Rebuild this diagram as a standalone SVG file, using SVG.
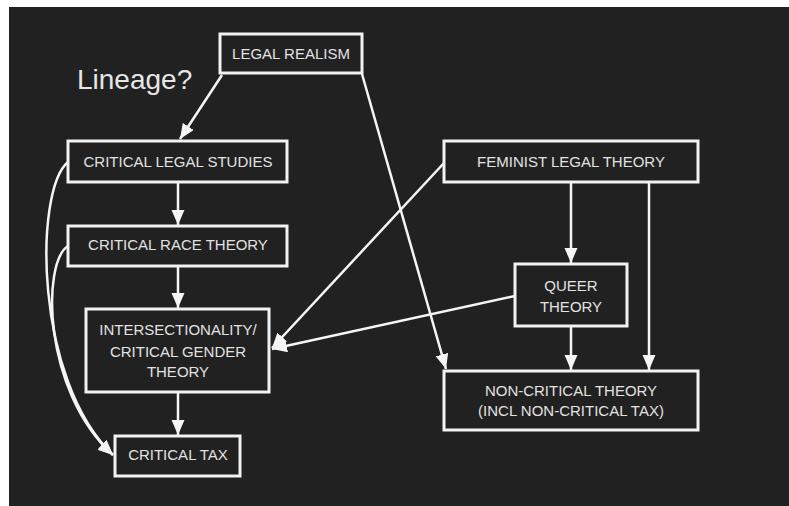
<svg xmlns="http://www.w3.org/2000/svg" width="789" height="506" viewBox="0 0 789 506">
<defs>
<style>
.box{fill:#212121;stroke:#f2f2f2;stroke-width:3}
.t{font-family:"Liberation Sans",Arial,sans-serif;font-size:15px;fill:#e2e2e2;text-anchor:middle}
.c{fill:none;stroke:#f5f5f5;stroke-width:2.5}
</style>
<marker id="ah" markerUnits="userSpaceOnUse" markerWidth="16" markerHeight="14" refX="15" refY="6.5" orient="auto">
<path d="M0,0 L15,6.5 L0,13 Z" fill="#f5f5f5"/>
</marker>
</defs>
<rect x="0" y="0" width="789" height="506" fill="#ffffff"/>
<rect x="9" y="7" width="780" height="499" fill="#212121"/>
<text x="77" y="89" font-family="Liberation Sans,Arial,sans-serif" font-size="28" fill="#e6e6e6">Lineage?</text>
<g id="connectors">
<path class="c" d="M222,75 L180,139" marker-end="url(#ah)"/>
<path class="c" d="M362,74 L446,369" marker-end="url(#ah)"/>
<path class="c" d="M178,183 L178,225" marker-end="url(#ah)"/>
<path class="c" d="M178,267 L178,308" marker-end="url(#ah)"/>
<path class="c" d="M178,393 L178,435" marker-end="url(#ah)"/>
<path class="c" d="M444,163 L272,348" marker-end="url(#ah)"/>
<path class="c" d="M515,296 L272,349" marker-end="url(#ah)"/>
<path class="c" d="M571,183 L571,263" marker-end="url(#ah)"/>
<path class="c" d="M649,183 L649,370" marker-end="url(#ah)"/>
<path class="c" d="M571,327 L571,370" marker-end="url(#ah)"/>
<path class="c" d="M68,162 C34,190 34,380 113,455" marker-end="url(#ah)"/>
<path class="c" d="M68,246 C42,262 42,390 113,455" marker-end="url(#ah)"/>
</g>
<g id="legal-realism">
<rect class="box" x="220" y="34" width="142" height="39"/>
<text class="t" x="291" y="59">LEGAL REALISM</text>
</g>
<g id="critical-legal-studies">
<rect class="box" x="68" y="141" width="219" height="41"/>
<text class="t" x="178" y="167">CRITICAL LEGAL STUDIES</text>
</g>
<g id="critical-race-theory">
<rect class="box" x="68" y="226" width="219" height="40"/>
<text class="t" x="178" y="250">CRITICAL RACE THEORY</text>
</g>
<g id="intersectionality">
<rect class="box" x="86" y="309" width="183" height="83"/>
<text class="t" x="178" y="335">INTERSECTIONALITY/</text>
<text class="t" x="178" y="356.5">CRITICAL GENDER</text>
<text class="t" x="178" y="377">THEORY</text>
</g>
<g id="critical-tax">
<rect class="box" x="115" y="436" width="125" height="40"/>
<text class="t" x="178" y="460">CRITICAL TAX</text>
</g>
<g id="feminist-legal-theory">
<rect class="box" x="444" y="141" width="254" height="41"/>
<text class="t" x="571" y="167">FEMINIST LEGAL THEORY</text>
</g>
<g id="queer-theory">
<rect class="box" x="515" y="264" width="112" height="62"/>
<text class="t" x="571" y="291">QUEER</text>
<text class="t" x="571" y="311.5">THEORY</text>
</g>
<g id="non-critical-theory">
<rect class="box" x="444" y="371" width="254" height="59"/>
<text class="t" x="571" y="396">NON-CRITICAL THEORY</text>
<text class="t" x="571" y="416">(INCL NON-CRITICAL TAX)</text>
</g>
</svg>
